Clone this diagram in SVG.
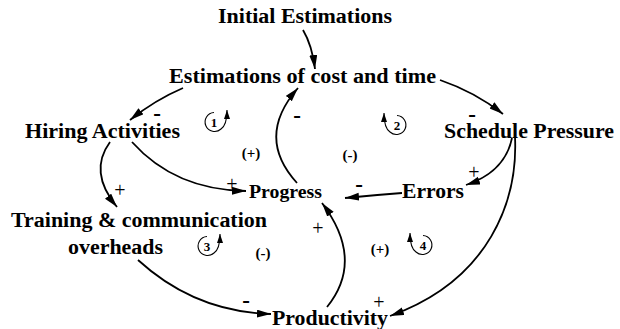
<svg xmlns="http://www.w3.org/2000/svg" width="620" height="329" viewBox="0 0 620 329">
<defs>
<marker id="ah" markerUnits="userSpaceOnUse" markerWidth="16" markerHeight="10" refX="14" refY="4" orient="auto">
<path d="M0,0 L14,4 L0,8 Z" fill="#000"/>
</marker>
<marker id="ahs" markerUnits="userSpaceOnUse" markerWidth="10" markerHeight="8" refX="9" refY="3" orient="auto">
<path d="M0,0 L9,3 L0,6 Z" fill="#000"/>
</marker>
<style>
.n{font-family:"Liberation Serif","Times New Roman",serif;font-weight:bold;font-size:20px;fill:#000}
.s{font-family:"Liberation Serif","Times New Roman",serif;font-size:20px;fill:#000;text-anchor:middle}
.m{font-family:"Liberation Serif","Times New Roman",serif;font-weight:bold;font-size:23px;fill:#000;text-anchor:middle}
.p{font-family:"Liberation Serif","Times New Roman",serif;font-weight:bold;font-size:15px;fill:#000;text-anchor:middle}
.l{font-family:"Liberation Serif","Times New Roman",serif;font-weight:bold;font-size:13px;fill:#000;text-anchor:middle}
.c{fill:none;stroke:#000;stroke-width:1.8;marker-end:url(#ah)}
.lp{fill:none;stroke:#000;stroke-width:1.1;marker-end:url(#ahs)}
</style>
</defs>
<rect width="620" height="329" fill="#fff"/>
<g id="connectors">
<path class="c" d="M303,30 Q312,45 315,69"/>
<path class="c" d="M183,88 Q155,100 130,120"/>
<path class="c" d="M440,80 Q475,92 503,114"/>
<path class="c" d="M297,183 Q255,137 298,88"/>
<path class="c" d="M132,142 Q175,190 246,191"/>
<path class="c" d="M110,142 Q88,172 117,207"/>
<path class="c" d="M138,260 Q195,312 271,314"/>
<path class="c" d="M327,307 Q365,260 322,203"/>
<path class="c" d="M402,193 Q375,195 345,198"/>
<path class="c" d="M512,138 Q505,172 466,185"/>
<path class="c" d="M515,137 C518,200 490,280 390,316"/>
</g>
<g id="signs">
<text class="m" x="157" y="121">-</text>
<text class="m" x="297" y="123">-</text>
<text class="m" x="472" y="122">-</text>
<text class="s" x="120" y="197">+</text>
<text class="s" x="232" y="191">+</text>
<text class="s" x="474" y="179">+</text>
<text class="m" x="359" y="192">-</text>
<text class="s" x="318" y="235">+</text>
<text class="m" x="246" y="308">-</text>
<text class="s" x="379" y="309">+</text>
<text class="p" x="251" y="158">(+)</text>
<text class="p" x="350" y="160">(-)</text>
<text class="p" x="263" y="258">(-)</text>
<text class="p" x="380" y="254">(+)</text>
</g>
<g id="loop1">
<path class="lp" d="M214,112.5 A9.5 9.5 0 1 0 221,129 Q227,125 227,110"/>
<text class="l" x="214" y="127">1</text>
</g>
<g id="loop2">
<path class="lp" d="M397,115.5 A9.5 9.5 0 1 1 390,132 Q384,128 384,113"/>
<text class="l" x="397" y="130">2</text>
</g>
<g id="loop3">
<path class="lp" d="M207,236.5 A9.5 9.5 0 1 0 214,253 Q220,249 220,234"/>
<text class="l" x="207" y="251">3</text>
</g>
<g id="loop4">
<path class="lp" d="M423,235.5 A9.5 9.5 0 1 1 416,252 Q410,248 410,233"/>
<text class="l" x="423" y="250">4</text>
</g>
<g id="initial"><text class="n" x="218" y="23" textLength="174" lengthAdjust="spacingAndGlyphs">Initial Estimations</text></g>
<g id="estimations"><text class="n" x="169" y="83" textLength="267" lengthAdjust="spacingAndGlyphs">Estimations of cost and time</text></g>
<g id="hiring"><text class="n" x="25" y="138" textLength="155" lengthAdjust="spacingAndGlyphs">Hiring Activities</text></g>
<g id="schedule"><text class="n" x="444" y="138" textLength="170" lengthAdjust="spacingAndGlyphs">Schedule Pressure</text></g>
<g id="progress"><text class="n" x="249" y="198" style="font-size:18px" textLength="73" lengthAdjust="spacingAndGlyphs">Progress</text></g>
<g id="errors"><text class="n" x="402" y="198" textLength="62" lengthAdjust="spacingAndGlyphs">Errors</text></g>
<g id="training"><text class="n" x="11" y="227" textLength="256" lengthAdjust="spacingAndGlyphs">Training &amp; communication</text><text class="n" x="68" y="254" textLength="95" lengthAdjust="spacingAndGlyphs">overheads</text></g>
<g id="productivity"><text class="n" x="272" y="325" textLength="116" lengthAdjust="spacingAndGlyphs">Productivity</text></g>
</svg>
